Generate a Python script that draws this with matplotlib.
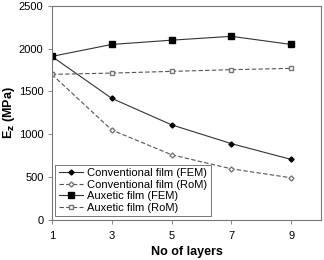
import matplotlib
matplotlib.use("Agg")
import matplotlib.pyplot as plt

plt.rcParams['font.family'] = ['Liberation Sans', 'DejaVu Sans']

layers = [1, 3, 5, 7, 9]
conv_fem = [1910, 1420, 1110, 890, 705]
conv_rom = [1700, 1050, 760, 595, 490]
aux_fem = [1910, 2050, 2100, 2145, 2050]
aux_rom = [1700, 1715, 1735, 1755, 1770]

fig = plt.figure(figsize=(3.24, 2.6), dpi=100)
ax = fig.add_axes([0.16, 0.155, 0.831, 0.822])

ax.plot(layers, conv_fem, color='#333333', lw=0.8, marker='D', ms=2.6,
        mfc='black', mec='black', label='Conventional film (FEM)')
ax.plot(layers, conv_rom, color='#555555', lw=0.8, ls=(0, (4, 2)), marker='D', ms=2.6,
        mfc='white', mec='#777777', label='Conventional film (RoM)')
ax.plot(layers, aux_fem, color='#333333', lw=0.8, marker='s', ms=4,
        mfc='black', mec='black', label='Auxetic film (FEM)')
ax.plot(layers, aux_rom, color='#555555', lw=0.8, ls=(0, (4, 2)), marker='s', ms=3.5,
        mfc='white', mec='#777777', label='Auxetic film (RoM)')

ax.set_xlim(1, 10)
ax.set_ylim(0, 2500)
ax.set_xticks([1, 3, 5, 7, 9])
ax.set_yticks([0, 500, 1000, 1500, 2000, 2500])
ax.tick_params(labelsize=8, length=3, width=0.6, color='#777777', pad=3)
ax.tick_params(axis='x', pad=5)
for s in ax.spines.values():
    s.set_color('#777777')
    s.set_linewidth(0.8)

ax.set_xlabel('No of layers', fontsize=9, fontweight='bold', labelpad=4)
ax.set_ylabel('E$_\\mathbf{z}$ (MPa)', fontsize=9, fontweight='bold')
ax.yaxis.set_label_coords(-0.13, 0.5)

leg = ax.legend(loc='lower left', fontsize=8, frameon=True, fancybox=False,
                borderpad=0.3, labelspacing=0.15, handlelength=2.2, handletextpad=0.4,
                borderaxespad=0.3)
leg.get_frame().set_edgecolor('#555555')
leg.get_frame().set_linewidth(0.7)

fig.savefig('out.png', dpi=100)
